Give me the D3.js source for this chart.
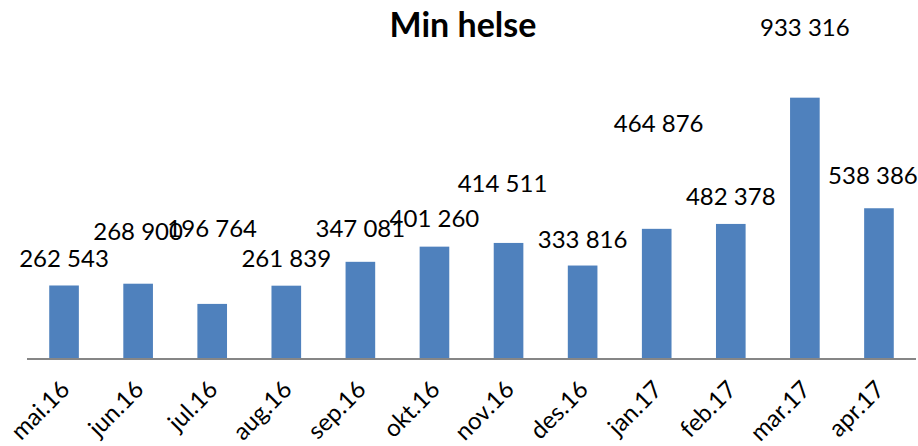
<!DOCTYPE html>
<html>
<head>
    <style>
        html,
        body {
            width: 100%;
            height: 100%;
            margin: 0;
            padding: 0;
            overflow: hidden;
            background: #fff;
        }
    </style>
</head>
<body>
<script src="https://d3js.org/d3.v7.min.js"></script>
<script>
    // Chart data
    const months = ["mai.16", "jun.16", "jul.16", "aug.16", "sep.16", "okt.16",
        "nov.16", "des.16", "jan.17", "feb.17", "mar.17", "apr.17"];
    const visits = [262543, 268900, 196764, 261839, 347081, 401260,
        414511, 333816, 464876, 482378, 933316, 538386];

    // Label placement (pixels above bar top / sideways nudge), as in the original
    const labelLift = [27, 52, 75, 27, 33, 28, 59, 26, 105, 27, 70, 33];
    const labelShift = [0, 0, 0, 0, 0, 0, -6, 0, 2, 0, 0, -6];

    const width = 918;
    const height = 446;
    const margin = {top: 79, right: 2, bottom: 87, left: 27};
    const font = "Lato, 'Open Sans', sans-serif";

    const svg = d3.select("body")
        .append("svg")
        .attr("width", width)
        .attr("height", height);

    const x = d3.scaleBand()
        .domain(months)
        .range([margin.left, width - margin.right])
        .paddingInner(0.6)
        .paddingOuter(0.3);

    const y = d3.scaleLinear()
        .domain([0, 1000000])
        .range([height - margin.bottom, margin.top]);

    // Title
    svg.append("text")
        .attr("x", 463)
        .attr("y", 37)
        .attr("text-anchor", "middle")
        .style("font-family", font)
        .style("font-weight", "bold")
        .style("font-size", "34px")
        .text("Min helse");

    // Bars
    svg.selectAll("rect.bar")
        .data(months)
        .join("rect")
        .attr("class", "bar")
        .attr("x", d => x(d))
        .attr("y", (d, i) => y(visits[i]))
        .attr("width", x.bandwidth())
        .attr("height", (d, i) => y(0) - y(visits[i]))
        .attr("fill", "#4F81BD");

    // Value labels
    const fmt = v => d3.format(",")(v).replace(/,/g, " ");
    svg.selectAll("text.value")
        .data(months)
        .join("text")
        .attr("class", "value")
        .attr("x", (d, i) => x(d) + x.bandwidth() / 2 + labelShift[i])
        .attr("y", (d, i) => y(visits[i]) - labelLift[i])
        .attr("dy", "0.35em")
        .attr("text-anchor", "middle")
        .style("font-family", font)
        .style("font-size", "24px")
        .text((d, i) => fmt(visits[i]));

    // X axis
    const xAxis = svg.append("g")
        .attr("transform", `translate(0,${y(0)})`)
        .call(d3.axisBottom(x).tickSize(0).tickPadding(0));

    xAxis.select(".domain")
        .attr("d", `M${margin.left},0H${width - margin.right}`)
        .attr("stroke", "#868686")
        .attr("stroke-width", 2);

    xAxis.selectAll(".tick text")
        .attr("y", 0)
        .attr("x", 0)
        .attr("dy", 0)
        .attr("transform", "translate(7,32) rotate(-45)")
        .attr("text-anchor", "end")
        .style("font-family", font)
        .style("font-size", "24px")
        .attr("fill", "#000");
</script>
</body>
</html>
